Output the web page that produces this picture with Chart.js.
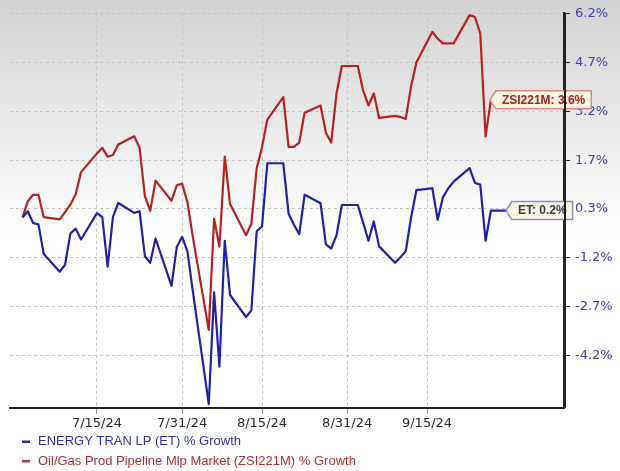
<!DOCTYPE html>
<html>
<head>
<meta charset="utf-8">
<script src="https://cdn.jsdelivr.net/npm/chart.js@4.4.1/dist/chart.umd.min.js"></script>
<style>
  html, body { margin: 0; padding: 0; background: #fff; }
  #wrap { width: 620px; height: 471px; position: relative; }
</style>
</head>
<body>
<div id="wrap"><canvas id="chart"></canvas></div>
<script>
// Weekdays, 7/1/24 .. 9/30/24
const dates = [
  '7/1/24','7/2/24','7/3/24','7/4/24','7/5/24','7/8/24','7/9/24','7/10/24','7/11/24','7/12/24',
  '7/15/24','7/16/24','7/17/24','7/18/24','7/19/24','7/22/24','7/23/24','7/24/24','7/25/24','7/26/24',
  '7/29/24','7/30/24','7/31/24',
  '8/1/24','8/2/24','8/5/24','8/6/24','8/7/24','8/8/24','8/9/24','8/12/24','8/13/24','8/14/24',
  '8/15/24','8/16/24','8/19/24','8/20/24','8/21/24','8/22/24','8/23/24','8/26/24','8/27/24','8/28/24',
  '8/29/24','8/30/24',
  '9/2/24','9/3/24','9/4/24','9/5/24','9/6/24','9/9/24','9/10/24','9/11/24','9/12/24','9/13/24',
  '9/16/24','9/17/24','9/18/24','9/19/24','9/20/24','9/23/24','9/24/24','9/25/24','9/26/24','9/27/24',
  '9/30/24'
];

// % growth, ENERGY TRAN LP (ET)
const etValues = [
  0.00, 0.19, -0.17, -0.21, -1.11, -1.65, -1.44, -0.49, -0.34, -0.67,
  0.13, 0.01, -1.50, 0.02, 0.44, 0.14, 0.19, -1.18, -1.38, -0.64,
  -2.08, -0.89, -0.59,
  -1.04, -2.24, -5.68, -2.28, -4.54, -0.71, -2.36, -3.03, -2.83, -0.42,
  -0.27, 1.65, 1.65, 0.11, -0.22, -0.51, 0.69, 0.43, -0.82, -0.95,
  -0.54, 0.38,
  0.38, -0.16, -0.71, -0.12, -0.88, -1.38, -1.21, -1.03, 0.00, 0.83,
  0.89, -0.07, 0.62, 0.89, 1.09, 1.50, 1.05, 1.00, -0.71, 0.21,
  0.21
];

// % growth, Oil/Gas Prod Pipeline Mlp Market (ZSI221M), ends 9/27
const zsiValues = [
  0.00, 0.49, 0.69, 0.69, 0.01, -0.06, 0.16, 0.39, 0.71, 1.38,
  1.95, 2.12, 1.85, 1.90, 2.22, 2.47, 2.12, 0.65, 0.20, 1.12,
  0.51, 0.98, 1.03,
  0.46, -0.59, -3.42, -0.04, -0.89, 1.85, 0.41, -0.54, -0.19, 1.50,
  2.14, 2.98, 3.66, 2.15, 2.15, 2.28, 3.19, 3.41, 2.58, 2.28,
  3.78, 4.61,
  4.61, 3.86, 3.41, 3.78, 3.03, 3.09, 3.06, 3.00, 3.99, 4.72,
  5.65, 5.44, 5.30, 5.30, 5.30, 6.16, 6.10, 5.60, 2.47, 3.58
];

const xTickLabels = ['7/15/24', '7/31/24', '8/15/24', '8/31/24', '9/15/24'];
const yTickValues = [6.2, 4.71, 3.23, 1.74, 0.26, -1.23, -2.71, -4.2];
const yTickLabels = ['6.2%', '4.7%', '3.2%', '1.7%', '0.3%', '-1.2%', '-2.7%', '-4.2%'];

const seriesNames = ['ENERGY TRAN LP (ET) % Growth', 'Oil/Gas Prod Pipeline Mlp Market (ZSI221M) % Growth'];
const tagNames = ['ET', 'ZSI221M'];

const BLUE = '#2020a8';
const RED = '#b42222';

// days since the first date
function dayOffset(s) {
  const [m, d, y] = s.split('/').map(Number);
  const [m0, d0, y0] = dates[0].split('/').map(Number);
  return Math.round((Date.UTC(2000 + y, m - 1, d) - Date.UTC(2000 + y0, m0 - 1, d0)) / 86400000);
}

const toPoints = vals => vals.map((v, i) => ({ x: dayOffset(dates[i]), y: v }));

const backdrop = {
  id: 'backdrop',
  beforeDraw(chart) {
    const { ctx, width, height } = chart;
    const g = ctx.createLinearGradient(0, 0, 0, 240);
    g.addColorStop(0, '#d2d2d2');
    g.addColorStop(1, '#ffffff');
    ctx.save();
    ctx.fillStyle = g;
    ctx.fillRect(0, 0, width, height);
    ctx.restore();
  }
};

const tags = {
  id: 'tags',
  afterDatasetsDraw(chart) {
    const { ctx, chartArea } = chart;
    const styles = [
      { fill: '#f8f4e0', stroke: '#8a8ad2', text: '#3a3a58' },
      { fill: '#f8f4e0', stroke: '#d88888', text: '#a82020' }
    ];
    ctx.save();
    ctx.font = 'bold 12px "Liberation Sans", Arial, sans-serif';
    chart.data.datasets.forEach((ds, i) => {
      const meta = chart.getDatasetMeta(i);
      const pt = meta.data[meta.data.length - 1];
      const val = ds.data[ds.data.length - 1].y;
      const label = tagNames[i] + ': ' + val.toFixed(1) + '%';
      const tw = ctx.measureText(label).width;
      const x0 = pt.x - 1, y0 = pt.y, h = 18, nose = 6, pad = 6;
      const x1 = x0 + nose, x2 = x1 + tw + pad * 2;
      ctx.beginPath();
      ctx.moveTo(x0, y0);
      ctx.lineTo(x1, y0 - h / 2);
      ctx.lineTo(x2, y0 - h / 2);
      ctx.lineTo(x2, y0 + h / 2);
      ctx.lineTo(x1, y0 + h / 2);
      ctx.closePath();
      ctx.fillStyle = styles[i].fill;
      ctx.fill();
      ctx.lineWidth = 1.5;
      ctx.strokeStyle = styles[i].stroke;
      ctx.stroke();
      ctx.fillStyle = styles[i].text;
      ctx.textBaseline = 'middle';
      ctx.textAlign = 'left';
      ctx.fillText(label, x1 + pad, y0 + 0.5);
    });
    // axis line sits on top of the tags
    ctx.beginPath();
    ctx.lineWidth = 2;
    ctx.strokeStyle = '#222';
    ctx.moveTo(chartArea.right + 1, chartArea.top);
    ctx.lineTo(chartArea.right + 1, chartArea.bottom);
    ctx.stroke();
    ctx.restore();
  }
};

const legendRows = {
  id: 'legendRows',
  afterDraw(chart) {
    const { ctx } = chart;
    const colors = ['#3030b0', '#b03030'];
    ctx.save();
    ctx.font = '13px "Liberation Sans", Arial, sans-serif';
    ctx.textBaseline = 'middle';
    seriesNames.forEach((name, i) => {
      const y = 441.5 + i * 19.5;
      ctx.fillStyle = colors[i];
      ctx.fillRect(22, y - 1, 8, 2.5);
      ctx.fillText(name, 38, y);
    });
    ctx.restore();
  }
};

new Chart(document.getElementById('chart'), {
  type: 'line',
  data: {
    datasets: [
      { label: 'ET', data: toPoints(etValues), borderColor: BLUE, borderWidth: 2.2, pointRadius: 0, borderJoinStyle: 'round', tension: 0 },
      { label: 'ZSI221M', data: toPoints(zsiValues), borderColor: RED, borderWidth: 2.2, pointRadius: 0, borderJoinStyle: 'round', tension: 0 }
    ]
  },
  options: {
    responsive: true,
    maintainAspectRatio: false,
    animation: false,
    layout: { padding: { left: 10, top: 5, right: 0, bottom: 0 } },
    plugins: { legend: { display: false }, tooltip: { enabled: false } },
    scales: {
      x: {
        type: 'linear',
        min: -2.34,
        max: 101.73,
        afterBuildTicks: s => { s.ticks = xTickLabels.map(l => ({ value: dayOffset(l) })); },
        afterFit: s => { s.height = 63; },
        ticks: {
          autoSkip: false, maxRotation: 0, padding: 2,
          color: '#2a2a2a', font: { family: '"DejaVu Sans", Verdana, sans-serif', size: 13 },
          callback: (v, i) => xTickLabels[i]
        },
        grid: { color: '#c4c4c4', lineWidth: 1, tickLength: 6, tickColor: '#999', tickBorderDash: [] },
        border: { display: true, color: '#222', width: 2, dash: [3, 3] }
      },
      y: {
        position: 'right',
        min: -5.8,
        max: 6.23,
        afterBuildTicks: s => { s.ticks = yTickValues.map(v => ({ value: v })); },
        afterFit: s => { s.width = 56; },
        ticks: {
          autoSkip: false, padding: 5,
          color: '#4040b4', font: { family: '"DejaVu Sans", Verdana, sans-serif', size: 13 },
          callback: (v, i) => yTickLabels[i]
        },
        grid: { color: '#c4c4c4', lineWidth: 1, tickLength: 6, tickColor: '#222', tickBorderDash: [] },
        border: { display: true, color: '#222', width: 2, dash: [3, 3] }
      }
    }
  },
  plugins: [backdrop, tags, legendRows]
});
</script>
</body>
</html>
